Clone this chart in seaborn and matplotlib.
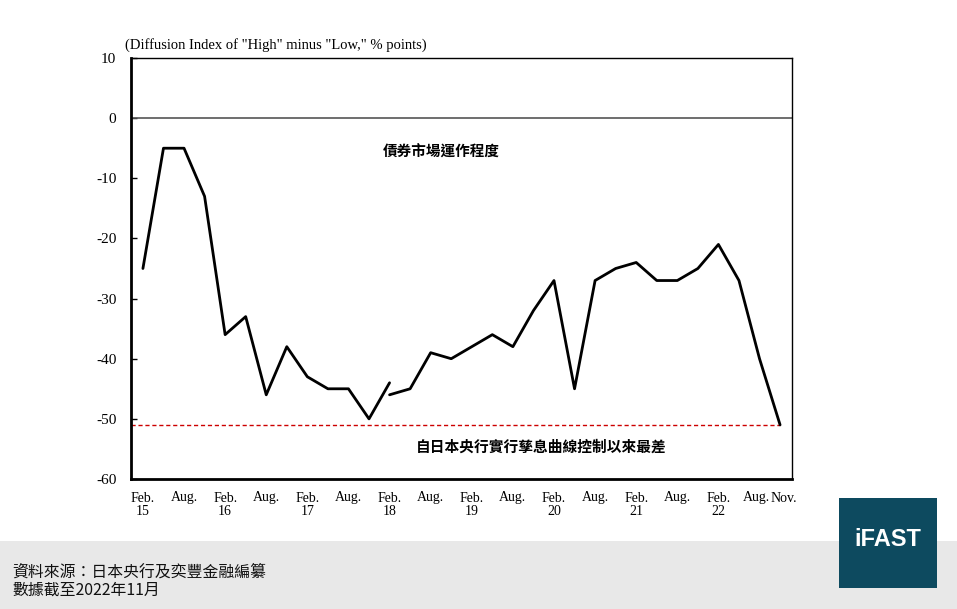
import matplotlib
matplotlib.use("Agg")
import matplotlib.pyplot as plt
import matplotlib.transforms as mtransforms
import seaborn as sns
import pandas as pd
import numpy as np
from matplotlib.patches import Rectangle

# ---- data (quarterly, Feb 2015 .. Nov 2022) ----
quarters = ["Feb15", "May15", "Aug15", "Nov15", "Feb16", "May16", "Aug16", "Nov16",
            "Feb17", "May17", "Aug17", "Nov17", "Feb18", "May18", "Aug18", "Nov18",
            "Feb19", "May19", "Aug19", "Nov19", "Feb20", "May20", "Aug20", "Nov20",
            "Feb21", "May21", "Aug21", "Nov21", "Feb22", "May22", "Aug22", "Nov22"]
# old survey basis: Feb15 .. Feb18
old_values = [-25, -5, -5, -13, -36, -33, -46, -38, -43, -45, -45, -50, -44]
# new survey basis: Feb18 .. Nov22
new_values = [-46, -45, -39, -40, -38, -36, -38, -32, -27, -45, -27, -25,
              -24, -27, -27, -25, -21, -27, -40, -51]
worst_level = -51
xtick_labels = ["Feb.\n15", "Aug.", "Feb.\n16", "Aug.", "Feb.\n17", "Aug.", "Feb.\n18",
                "Aug.", "Feb.\n19", "Aug.", "Feb.\n20", "Aug.", "Feb.\n21", "Aug.",
                "Feb.\n22", "Aug.", "Nov."]
ytick_values = [10, 0, -10, -20, -30, -40, -50, -60]

df_old = pd.DataFrame({"q": np.arange(len(old_values)), "v": old_values})
df_new = pd.DataFrame({"q": np.arange(12, 12 + len(new_values)), "v": new_values})

sns.set_theme(style="white")
plt.rcParams["font.family"] = ["Liberation Serif", "Noto Sans CJK TC", "DejaVu Sans"]
plt.rcParams["text.color"] = "black"
plt.rcParams["xtick.color"] = "black"
plt.rcParams["ytick.color"] = "black"
plt.rcParams["xtick.labelcolor"] = "black"
plt.rcParams["ytick.labelcolor"] = "black"

fig = plt.figure(figsize=(9.57, 6.09), dpi=100)
fig.patch.set_facecolor("white")
fig.patches.append(Rectangle((0, 0), 1, 1 - 541 / 609, transform=fig.transFigure,
                             facecolor="#e8e8e8", edgecolor="none", zorder=0))

ax = fig.add_axes([131 / 957, 1 - 479 / 609, (792 - 131) / 957, (479 - 58) / 609])
ax.set_facecolor("white")

sns.lineplot(data=df_old, x="q", y="v", ax=ax, color="black", linewidth=2.0)
sns.lineplot(data=df_new, x="q", y="v", ax=ax, color="black", linewidth=2.0)

ax.axhline(0, color="#555555", linewidth=1.2, zorder=1)
xmin = -0.58
ax.plot([xmin, len(quarters) - 1], [worst_level, worst_level], color="#cc0000",
        linestyle=(0, (3, 2)), linewidth=1.0, zorder=1)

ax.set_xlim(xmin, 31.58)
ax.set_ylim(-60, 10)

ax.set_xticks([0, 2, 4, 6, 8, 10, 12, 14, 16, 18, 20, 22, 24, 26, 28, 30, 31])
ax.set_xticklabels(xtick_labels, fontsize=10, family=["Liberation Serif"], linespacing=1.05,
                   color="black")
ax.set_xticks(np.arange(0.5, 31, 1.0), minor=True)
ax.tick_params(axis="x", which="major", length=0, pad=9)
ax.tick_params(axis="x", which="minor", direction="in", length=4, width=1, color="black")
ax.set_yticks(ytick_values)
ax.set_yticklabels([str(v) for v in ytick_values], fontsize=11, family=["Liberation Serif"],
                   color="black")
ax.tick_params(axis="y", direction="in", length=4, width=1, color="black", pad=10.5, left=True)
ax.set_xlabel("")
ax.set_ylabel("")

# nudge the last two crowded labels apart, as in the reference
xlabels = ax.get_xticklabels()
xlabels[-2].set_transform(xlabels[-2].get_transform() +
                          mtransforms.ScaledTranslation(-3 / 100, 0, fig.dpi_scale_trans))
xlabels[-1].set_transform(xlabels[-1].get_transform() +
                          mtransforms.ScaledTranslation(4 / 100, 0, fig.dpi_scale_trans))

for side in ["left", "bottom"]:
    ax.spines[side].set_linewidth(2.0)
    ax.spines[side].set_color("black")
for side in ["top", "right"]:
    ax.spines[side].set_linewidth(1.0)
    ax.spines[side].set_color("black")

fig.text(125 / 957, 1 - 45 / 609, '(Diffusion Index of "High" minus "Low," % points)',
         fontsize=10.5, family=["Liberation Serif"], ha="left", va="center", color="black")

ax.text(14.5, -5.6, "債券市場運作程度", fontsize=10.5, fontweight="bold",
        family=["Noto Sans CJK TC"], ha="center", va="center", color="black")
ax.text(19.4, -54.6, "自日本央行實行孳息曲線控制以來最差", fontsize=10.6, fontweight="bold",
        family=["Noto Sans CJK TC"], ha="center", va="center", color="black")

fig.text(12 / 957, 1 - 572 / 609, "資料來源：日本央行及奕豐金融編纂", fontsize=11.4,
         family=["Noto Sans CJK TC"], ha="left", va="center", color="#111111")
fig.text(12 / 957, 1 - 590 / 609, "數據截至2022年11月", fontsize=11.4,
         family=["Noto Sans CJK TC"], ha="left", va="center", color="#111111")

fig.patches.append(Rectangle((839 / 957, 1 - 588 / 609), 98 / 957, 90 / 609,
                             transform=fig.transFigure, facecolor="#0d4a5f",
                             edgecolor="none", zorder=2))
fig.text(888 / 957, 1 - 540 / 609, "iFAST", fontsize=17, fontweight="bold",
         family=["Liberation Sans"], color="white", ha="center", va="center", zorder=3)

fig.savefig("out.png", dpi=100)
